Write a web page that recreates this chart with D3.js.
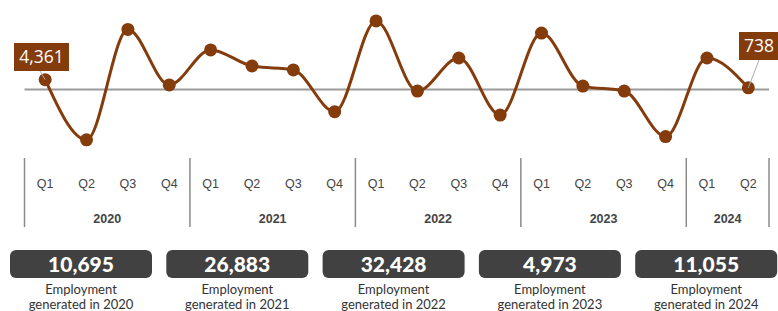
<!DOCTYPE html>
<html><head><meta charset="utf-8">
<script src="https://cdn.jsdelivr.net/npm/d3@7"></script>
<style>html,body{margin:0;padding:0;background:#fff;overflow:hidden}</style>
</head><body>
<svg id="c" width="778" height="311"></svg>
<script>
const quarters = ["Q1","Q2","Q3","Q4","Q1","Q2","Q3","Q4","Q1","Q2","Q3","Q4","Q1","Q2","Q3","Q4","Q1","Q2"];
const years = ["2020","2020","2020","2020","2021","2021","2021","2021","2022","2022","2022","2022","2023","2023","2023","2023","2024","2024"];
const values = [4361,-22400,26700,2030,17600,10450,8700,-9870,30500,-700,14000,-11370,25100,1500,-700,-20930,14000,738];
const yearNames = ["2020","2021","2022","2023","2024"];
const yearTotals = [10695,26883,32428,4973,11055];

const svg = d3.select("#c");
const keys = quarters.map((q,i)=>years[i]+"-"+q);
const x = d3.scaleBand().domain(keys).range([24.5,769]);
const y = d3.scaleLinear().domain([-25000,35000]).range([145.7,10.8]);
const brown = "#843c0c";
const fmt = d3.format(",");

// zero line
svg.append("line").attr("x1",x.range()[0]).attr("x2",x.range()[1])
  .attr("y1",y(0)).attr("y2",y(0)).attr("stroke","#9a9a9a").attr("stroke-width",2);

const pts = values.map((v,i)=>[x(keys[i])+x.bandwidth()/2, y(v)]);
svg.append("path").attr("d", d3.line().curve(d3.curveMonotoneX)(pts))
  .attr("fill","none").attr("stroke",brown).attr("stroke-width",3);
svg.selectAll("circle.pt").data(values).join("circle").attr("class","pt")
  .attr("cx",(d,i)=>x(keys[i])+x.bandwidth()/2).attr("cy",d=>y(d)).attr("r",6.5).attr("fill",brown);

// data labels (first and last)
function dataLabel(i, bx, by, bw, bh){
  const px = x(keys[i])+x.bandwidth()/2, py = y(values[i]);
  svg.append("line").attr("x1",bx+bw/2 + (i===0?-1.5:0)).attr("y1",by+bh).attr("x2",px).attr("y2",py)
    .attr("stroke","#aaa").attr("stroke-width",1);
  svg.append("rect").attr("x",bx).attr("y",by).attr("width",bw).attr("height",bh).attr("fill",brown);
  svg.append("text").attr("x",bx+bw/2).attr("y",by+bh/2+6).attr("text-anchor","middle")
    .attr("fill","#fff").attr("font-family","'Open Sans',sans-serif").attr("font-size",17.5)
    .text(fmt(values[i]));
}
dataLabel(0, 14, 43, 55, 28);
dataLabel(values.length-1, 739, 32, 40, 28);

// axis: quarter labels
svg.selectAll("text.q").data(quarters).join("text").attr("class","q")
  .attr("x",(d,i)=>x(keys[i])+x.bandwidth()/2).attr("y",187.5)
  .attr("text-anchor","middle").attr("fill","#444")
  .attr("font-family","'Liberation Sans',Arial,sans-serif").attr("font-size",12.5).text(d=>d);

// year groups
const groups = yearNames.map(yn=>{
  const ks = keys.filter((k,i)=>years[i]===yn);
  return {name:yn, x0:x(ks[0]), x1:x(ks[ks.length-1])+x.bandwidth()};
});
const bounds = [groups[0].x0, ...groups.map(g=>g.x1)];
svg.selectAll("line.sep").data(bounds).join("line").attr("class","sep")
  .attr("x1",d=>d).attr("x2",d=>d).attr("y1",158).attr("y2",227)
  .attr("stroke","#8a8a8a").attr("stroke-width",1.5);
svg.selectAll("text.yr").data(groups).join("text").attr("class","yr")
  .attr("x",d=>(d.x0+d.x1)/2).attr("y",222.5).attr("text-anchor","middle")
  .attr("fill","#444").attr("font-weight","bold")
  .attr("font-family","'Liberation Sans',Arial,sans-serif").attr("font-size",12.5).text(d=>d.name);

// totals boxes
const bx = d3.scaleBand().domain(yearNames).range([10,10+5*156.3]).paddingInner(0);
const bw = 142;
const g = svg.selectAll("g.tot").data(yearNames).join("g").attr("class","tot")
  .attr("transform",d=>`translate(${bx(d)},0)`);
g.append("rect").attr("x",0).attr("y",250).attr("width",bw).attr("height",28).attr("rx",6)
  .attr("fill","#414141");
g.append("text").attr("x",bw/2).attr("y",271.5).attr("text-anchor","middle").attr("fill","#fff")
  .attr("font-family","Lato,sans-serif").attr("font-weight",900).attr("font-size",21)
  .text((d,i)=>fmt(yearTotals[i]));
g.append("text").attr("x",bw/2).attr("y",294).attr("text-anchor","middle").attr("fill","#333")
  .attr("font-family","Lato,sans-serif").attr("font-size",13).text("Employment");
g.append("text").attr("x",bw/2).attr("y",309).attr("text-anchor","middle").attr("fill","#333")
  .attr("font-family","Lato,sans-serif").attr("font-size",13).text(d=>"generated in "+d);
</script>
</body></html>
